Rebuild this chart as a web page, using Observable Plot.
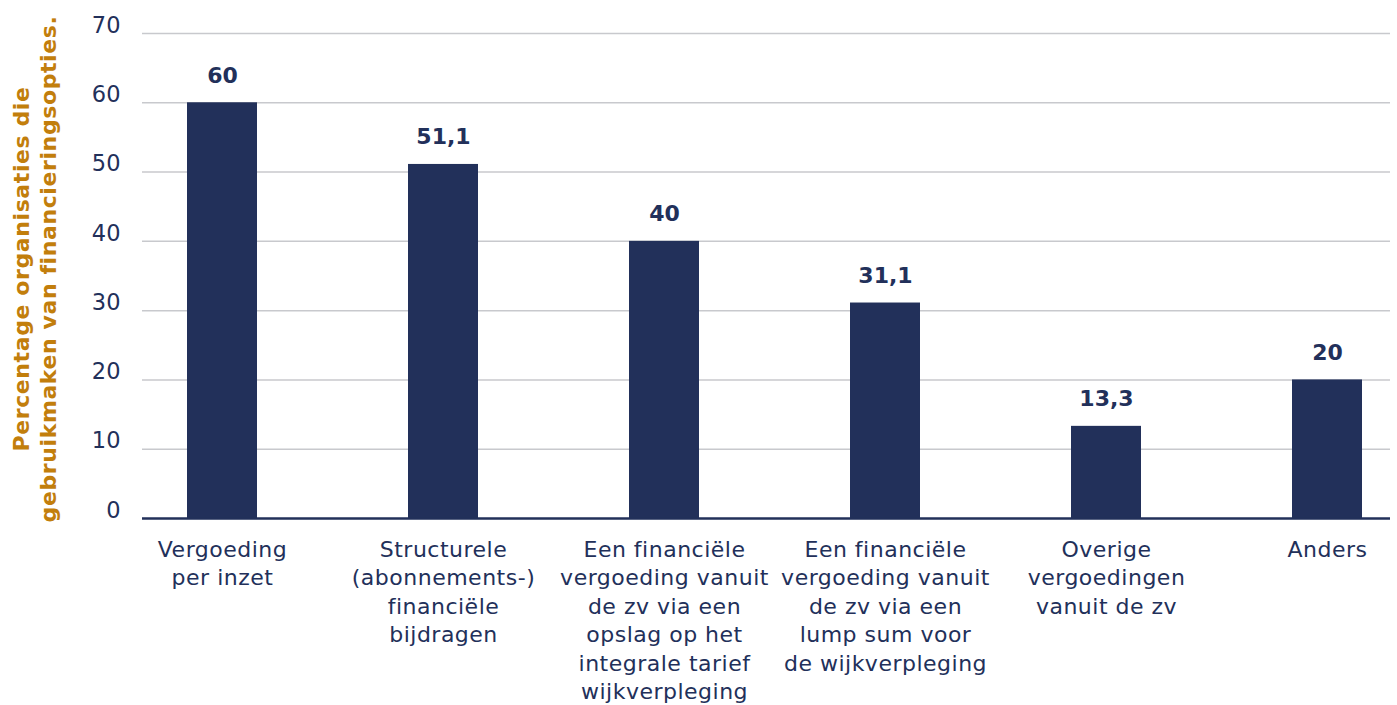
<!DOCTYPE html>
<html>
<head>
<meta charset="utf-8">
<script src="https://cdn.jsdelivr.net/npm/d3@7"></script>
<script src="https://cdn.jsdelivr.net/npm/@observablehq/plot@0.6"></script>
<style>
  html, body { margin: 0; padding: 0; background: #fff; }
  #chart svg { display: block; }
  #chart [aria-label="x-axis tick label"] text { letter-spacing: 0.5px; }
  #chart .ylab text { letter-spacing: 0.6px; }
</style>
</head>
<body>
<div id="chart"></div>
<script>
const categories = [
  "Vergoeding\nper inzet",
  "Structurele\n(abonnements-)\nfinanciële\nbijdragen",
  "Een financiële\nvergoeding vanuit\nde zv via een\nopslag op het\nintegrale tarief\nwijkverpleging",
  "Een financiële\nvergoeding vanuit\nde zv via een\nlump sum voor\nde wijkverpleging",
  "Overige\nvergoedingen\nvanuit de zv",
  "Anders"
];
const values = [60, 51.1, 40, 31.1, 13.3, 20];
const yTicks = [0, 10, 20, 30, 40, 50, 60, 70];
const yLabel = "Percentage organisaties die\ngebruikmaken van financieringsopties.";

const data = categories.map((c, i) => ({ cat: c, value: values[i] }));
const navy = "#22305a";
const fmt = v => String(v).replace(".", ",");
const font = "'DejaVu Sans', sans-serif";

const chart = Plot.plot({
  width: 1397,
  height: 705,
  marginLeft: 142,
  marginRight: 7,
  marginTop: 33,
  marginBottom: 187,
  style: { fontFamily: font, color: navy, background: "#fff" },
  x: { domain: categories, paddingInner: 0.684, paddingOuter: 0.16, align: 0.62, label: null },
  y: { domain: [0, 70], label: null },
  marks: [
    Plot.gridY(yTicks.filter(t => t > 0), { stroke: "#c8c9cd", strokeOpacity: 1, strokeWidth: 1.5 }),
    Plot.barY(data, { x: "cat", y: "value", fill: navy }),
    Plot.ruleY([0], { stroke: navy, strokeWidth: 2.5 }),
    Plot.axisY({ ticks: yTicks, tickSize: 0, tickPadding: 22, fontSize: 22.5, dy: -8, fill: navy, label: null }),
    Plot.axisX({ tickSize: 0, tickPadding: 18, fontSize: 22, lineHeight: 1.295, fill: navy, label: null }),
    Plot.text(data, { x: "cat", y: "value", text: d => fmt(d.value), dy: -27, fontSize: 22, fontWeight: "bold", fill: navy }),
    Plot.text([yLabel], { className: "ylab", frameAnchor: "left", dx: -109, dy: -7, rotate: -90, fontSize: 22, fontWeight: "bold", fill: "#c27e0c", textAnchor: "middle", lineAnchor: "middle", lineHeight: 1.23 })
  ]
});
document.getElementById("chart").appendChild(chart);
</script>
</body>
</html>
